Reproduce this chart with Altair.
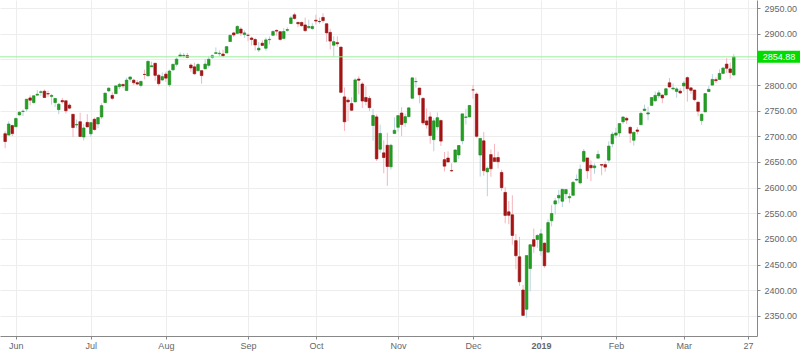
import altair as alt
import pandas as pd

# ---- data (S&P 500 daily candles, trading days) ----
dates = (
    ["2018-05-29", "2018-05-30", "2018-05-31"]
    + ["2018-06-%02d" % d for d in [1, 4, 5, 6, 7, 8, 11, 12, 13, 14, 15, 18, 19, 20, 21, 22, 25, 26, 27, 28, 29]]
    + ["2018-07-%02d" % d for d in [2, 3, 5, 6, 9, 10, 11, 12, 13, 16, 17, 18, 19, 20, 23, 24, 25, 26, 27, 30, 31]]
    + ["2018-08-%02d" % d for d in [1, 2, 3, 6, 7, 8, 9, 10, 13, 14, 15, 16, 17, 20, 21, 22, 23, 24, 27, 28, 29, 30, 31]]
    + ["2018-09-%02d" % d for d in [4, 5, 6, 7, 10, 11, 12, 13, 14, 17, 18, 19, 20, 21, 24, 25, 26, 27, 28]]
    + ["2018-10-%02d" % d for d in [1, 2, 3, 4, 5, 8, 9, 10, 11, 12, 15, 16, 17, 18, 19, 22, 23, 24, 25, 26, 29, 30, 31]]
    + ["2018-11-%02d" % d for d in [1, 2, 5, 6, 7, 8, 9, 12, 13, 14, 15, 16, 19, 20, 21, 23, 26, 27, 28, 29, 30]]
    + ["2018-12-%02d" % d for d in [3, 4, 6, 7, 10, 11, 12, 13, 14, 17, 18, 19, 20, 21, 24, 26, 27, 28, 31]]
    + ["2019-01-%02d" % d for d in [2, 3, 4, 7, 8, 9, 10, 11, 14, 15, 16, 17, 18, 22, 23, 24, 25, 28, 29, 30, 31]]
    + ["2019-02-%02d" % d for d in [1, 4, 5, 6, 7, 8, 11, 12, 13, 14, 15, 19, 20, 21, 22, 25, 26, 27, 28]]
    + ["2019-03-%02d" % d for d in [1, 4, 5, 6, 7, 8, 11, 12, 13, 14, 15, 18, 19, 20, 21]]
)

opens = [
    2705.11, 2702.43, 2720.98,
    2718.70, 2741.67, 2748.46, 2753.25, 2774.84, 2765.84, 2780.18, 2785.60, 2787.94, 2783.21, 2777.78,
    2765.79, 2752.01, 2769.73, 2769.28, 2760.79, 2742.94, 2722.12, 2728.45, 2698.69, 2727.13,
    2704.95, 2733.27, 2724.19, 2737.68, 2765.79, 2788.56, 2779.82, 2783.14, 2796.93, 2800.86, 2789.34,
    2811.35, 2809.37, 2804.55, 2799.17, 2820.68, 2817.73, 2835.49, 2842.35, 2819.00, 2809.73,
    2821.17, 2800.48, 2829.62, 2840.29, 2855.92, 2856.79, 2857.19, 2838.90, 2835.46, 2827.88, 2827.95,
    2831.44, 2838.32, 2853.93, 2861.51, 2860.99, 2860.29, 2862.35, 2884.69, 2901.45, 2900.62, 2908.94, 2898.37,
    2896.96, 2891.59, 2888.64, 2868.26, 2881.39, 2871.57, 2888.29, 2896.85, 2906.38, 2903.83, 2890.74,
    2906.60, 2919.73, 2936.76, 2921.83, 2921.75, 2916.98, 2911.65, 2910.03,
    2926.29, 2923.80, 2931.69, 2919.35, 2902.54, 2877.53, 2882.51, 2873.90, 2776.87, 2770.54, 2763.83,
    2767.05, 2811.67, 2802.00, 2775.66, 2773.94, 2721.03, 2737.87, 2674.88, 2667.86, 2682.65, 2640.68, 2705.60,
    2717.58, 2745.45, 2726.37, 2738.40, 2774.13, 2806.38, 2794.10, 2773.93, 2730.05, 2737.90, 2693.52,
    2718.54, 2730.74, 2654.60, 2657.74, 2633.36, 2649.97, 2663.75, 2691.45, 2736.97, 2737.76,
    2790.50, 2782.43, 2663.51, 2691.26, 2630.86, 2664.44, 2658.23, 2658.70, 2629.68, 2590.75, 2553.00,
    2547.05, 2496.77, 2465.38, 2400.56, 2363.12, 2442.50, 2498.77, 2498.94,
    2476.96, 2491.92, 2474.33, 2535.61, 2568.11, 2580.00, 2573.51, 2588.11, 2580.31, 2585.10, 2614.75,
    2609.28, 2651.27, 2657.88, 2643.48, 2638.84, 2657.44, 2644.97, 2644.89, 2653.62, 2685.49,
    2702.32, 2706.49, 2728.34, 2735.05, 2717.53, 2692.36, 2712.40, 2722.61, 2750.30, 2743.50, 2760.24,
    2769.28, 2779.05, 2780.24, 2780.67, 2804.35, 2792.36, 2787.50, 2788.11,
    2798.22, 2814.37, 2794.41, 2790.27, 2766.53, 2730.79, 2747.61, 2787.34, 2799.78, 2810.38, 2810.79,
    2822.61, 2840.76, 2831.34, 2819.72,
]

highs = [
    2710.67, 2729.34, 2722.50,
    2736.93, 2749.16, 2752.61, 2772.39, 2779.90, 2779.39, 2790.21, 2789.80, 2791.47, 2789.06, 2782.81,
    2774.99, 2765.05, 2774.86, 2769.28, 2764.17, 2742.94, 2732.91, 2746.09, 2724.34, 2743.26,
    2727.26, 2736.58, 2737.83, 2764.41, 2784.65, 2795.58, 2785.91, 2799.22, 2804.53, 2803.37, 2814.19,
    2816.76, 2812.05, 2809.70, 2808.61, 2829.99, 2848.03, 2845.57, 2843.17, 2821.74, 2824.46,
    2825.83, 2829.91, 2840.38, 2853.29, 2863.43, 2862.44, 2862.48, 2842.20, 2843.40, 2843.11, 2827.95,
    2850.49, 2855.63, 2859.76, 2873.23, 2867.54, 2868.78, 2876.16, 2898.25, 2903.77, 2916.50, 2912.46, 2906.32,
    2900.18, 2894.21, 2892.05, 2883.81, 2886.93, 2892.52, 2894.65, 2906.76, 2908.30, 2904.65, 2911.17,
    2912.36, 2934.80, 2940.91, 2923.79, 2923.95, 2931.15, 2927.22, 2920.53,
    2937.06, 2931.42, 2939.86, 2919.78, 2909.64, 2894.83, 2894.83, 2874.02, 2795.14, 2775.77, 2775.99,
    2813.46, 2816.94, 2806.04, 2797.77, 2778.94, 2753.59, 2742.59, 2722.70, 2692.38, 2706.85, 2685.43, 2736.69,
    2741.67, 2756.55, 2744.27, 2756.82, 2815.15, 2814.75, 2794.10, 2775.99, 2754.60, 2746.80, 2735.38,
    2746.75, 2733.16, 2669.44, 2670.73, 2647.55, 2674.35, 2682.53, 2744.00, 2753.75, 2760.88,
    2800.18, 2785.93, 2696.15, 2708.54, 2641.34, 2674.35, 2685.44, 2670.19, 2635.07, 2601.13, 2573.99,
    2585.29, 2509.63, 2504.41, 2410.34, 2467.76, 2489.10, 2520.27, 2509.24,
    2519.49, 2493.14, 2538.07, 2566.16, 2579.82, 2595.32, 2597.82, 2596.27, 2589.32, 2613.08, 2625.76,
    2645.06, 2675.47, 2657.88, 2653.19, 2647.20, 2672.38, 2644.97, 2650.93, 2690.44, 2708.95,
    2716.66, 2724.99, 2738.98, 2738.08, 2719.32, 2708.07, 2718.05, 2748.19, 2761.85, 2757.90, 2775.66,
    2787.33, 2789.88, 2781.58, 2794.20, 2813.49, 2803.12, 2795.76, 2793.73,
    2808.02, 2816.88, 2796.44, 2790.27, 2767.25, 2744.13, 2784.00, 2798.32, 2821.24, 2815.00, 2830.73,
    2835.41, 2852.42, 2843.54, 2860.31,
]

lows = [
    2676.81, 2702.43, 2700.68,
    2718.70, 2740.54, 2739.51, 2748.46, 2760.16, 2763.59, 2780.17, 2778.78, 2774.65, 2776.52, 2761.73,
    2757.12, 2743.19, 2763.91, 2744.39, 2752.68, 2698.67, 2715.60, 2699.38, 2691.99, 2718.03,
    2698.95, 2711.16, 2716.02, 2733.52, 2765.79, 2786.24, 2770.77, 2783.14, 2791.69, 2793.81, 2789.24,
    2805.89, 2799.77, 2800.01, 2795.14, 2811.12, 2817.73, 2835.26, 2808.34, 2798.11, 2808.06,
    2805.85, 2796.34, 2827.37, 2835.98, 2855.92, 2853.09, 2851.98, 2825.81, 2819.88, 2826.58, 2802.49,
    2831.44, 2833.73, 2850.62, 2861.32, 2856.05, 2854.03, 2862.35, 2884.69, 2893.50, 2898.40, 2895.22, 2891.73,
    2885.13, 2876.92, 2867.29, 2864.12, 2875.94, 2866.78, 2879.20, 2896.39, 2895.77, 2886.16, 2890.43,
    2903.82, 2919.73, 2927.11, 2912.63, 2913.70, 2903.28, 2909.27, 2907.50,
    2917.91, 2919.37, 2921.36, 2883.92, 2869.29, 2855.04, 2874.27, 2784.86, 2710.51, 2729.44, 2749.03,
    2766.91, 2781.81, 2755.18, 2760.27, 2749.22, 2691.43, 2651.89, 2667.84, 2628.16, 2603.54, 2635.34, 2705.60,
    2708.85, 2700.44, 2717.94, 2737.08, 2774.13, 2794.99, 2764.24, 2722.00, 2714.98, 2685.75, 2670.75,
    2712.16, 2681.09, 2631.52, 2649.82, 2631.09, 2649.97, 2655.89, 2684.38, 2722.94, 2737.76,
    2773.38, 2697.18, 2621.53, 2623.14, 2583.23, 2621.30, 2650.26, 2637.27, 2593.84, 2530.54, 2528.71,
    2488.96, 2441.18, 2408.55, 2351.10, 2346.58, 2397.94, 2472.89, 2482.82,
    2467.47, 2443.96, 2474.33, 2524.56, 2547.56, 2568.89, 2562.02, 2577.40, 2570.41, 2585.10, 2612.68,
    2606.36, 2647.58, 2617.27, 2612.86, 2627.01, 2657.33, 2624.06, 2631.05, 2648.34, 2678.65,
    2696.88, 2698.75, 2724.03, 2724.15, 2687.26, 2681.83, 2703.79, 2722.61, 2748.63, 2731.23, 2760.24,
    2767.29, 2774.06, 2764.55, 2779.11, 2794.99, 2789.47, 2775.13, 2782.51,
    2787.38, 2767.66, 2782.97, 2768.69, 2739.09, 2722.27, 2747.61, 2786.73, 2799.78, 2803.46, 2810.79,
    2821.99, 2823.27, 2812.43, 2817.38,
]

closes = [
    2689.86, 2724.01, 2705.27,
    2734.62, 2746.87, 2748.80, 2772.35, 2770.37, 2779.03, 2782.00, 2786.85, 2775.63, 2782.49, 2779.66,
    2773.75, 2762.59, 2767.32, 2749.76, 2754.88, 2717.07, 2723.06, 2699.63, 2716.31, 2718.37,
    2726.71, 2713.22, 2736.61, 2759.82, 2784.17, 2793.84, 2774.02, 2798.29, 2801.31, 2798.43, 2809.55,
    2815.62, 2804.49, 2801.83, 2806.98, 2820.40, 2846.07, 2837.44, 2818.82, 2802.60, 2816.29,
    2813.36, 2827.22, 2840.35, 2850.40, 2858.45, 2857.70, 2853.58, 2833.28, 2821.93, 2839.96, 2818.37,
    2840.69, 2850.13, 2857.05, 2862.96, 2861.82, 2856.98, 2874.69, 2896.74, 2897.52, 2914.04, 2901.13, 2901.52,
    2896.72, 2888.60, 2878.05, 2871.68, 2877.13, 2887.89, 2888.92, 2904.18, 2904.98, 2888.80, 2904.31,
    2907.95, 2930.75, 2929.67, 2919.37, 2915.56, 2905.97, 2914.00, 2913.98,
    2924.59, 2923.43, 2925.51, 2901.61, 2885.57, 2884.43, 2880.34, 2785.68, 2728.37, 2767.13, 2750.79,
    2809.92, 2809.21, 2768.78, 2767.78, 2755.88, 2740.69, 2656.10, 2705.57, 2658.69, 2641.25, 2682.63, 2711.74,
    2740.37, 2723.06, 2738.31, 2755.45, 2813.89, 2806.83, 2781.01, 2726.22, 2722.18, 2701.58, 2730.20,
    2736.27, 2690.73, 2641.89, 2649.93, 2632.56, 2673.45, 2682.17, 2743.79, 2737.76, 2760.17,
    2790.37, 2700.06, 2695.95, 2633.08, 2637.72, 2636.78, 2651.07, 2650.54, 2599.95, 2545.94, 2546.16,
    2506.96, 2467.42, 2416.62, 2351.10, 2467.70, 2488.83, 2485.74, 2506.85,
    2510.03, 2447.89, 2531.94, 2549.69, 2574.41, 2584.96, 2596.64, 2596.26, 2582.61, 2610.30, 2616.10,
    2635.96, 2670.71, 2632.90, 2638.70, 2642.33, 2664.76, 2643.85, 2640.00, 2681.05, 2704.10,
    2706.53, 2724.87, 2737.70, 2731.61, 2706.05, 2707.88, 2709.80, 2744.73, 2753.03, 2745.73, 2775.60,
    2779.76, 2784.70, 2774.88, 2792.67, 2796.11, 2793.90, 2792.38, 2784.49,
    2803.69, 2792.81, 2789.65, 2771.45, 2748.93, 2743.07, 2783.30, 2791.52, 2810.92, 2808.48, 2822.48,
    2832.94, 2832.57, 2824.23, 2854.88,
]

# x-axis ticks: trading-day index (0 = 2018-06-01) and their labels
tick_index = [0, 21, 42, 65, 84, 107, 128, 147, 168, 187, 205]
tick_labels = ["Jun", "Jul", "Aug", "Sep", "Oct", "Nov", "Dec", "2019", "Feb", "Mar", "27"]
y_ticks = [2350, 2400, 2450, 2500, 2550, 2600, 2650, 2700, 2750, 2800, 2850, 2900, 2950]
hidden_y_label = 2850  # covered by the last-price tag in the reference

# ---- build table ----
df = pd.DataFrame({"date": dates, "open": opens, "high": highs, "low": lows, "close": closes})
origin = dates.index("2018-06-01")
df["i"] = [k - origin for k in range(len(df))]

last_close = closes[-1]

UP_BODY, DN_BODY = "#22a022", "#a81414"
UP_EDGE, DN_EDGE = "#1b861b", "#8e0f0f"
UP_WICK, DN_WICK = "#b6d4de", "#f5b4be"
FONT = "Liberation Sans"

expr = ""
for v, lab in zip(tick_index, tick_labels):
    expr += f"datum.value == {v} ? '{lab}' : "
expr += "''"

x_scale = alt.Scale(domain=[-3.04, 206.1], nice=False, zero=False)
x_axis = alt.Axis(
    values=tick_index, labelExpr=expr, title=None, grid=True, gridColor="#ededed",
    domainColor="#888888", tickColor="#888888", tickSize=3, labelColor="#666666",
    labelFontSize=9, labelFont=FONT, labelPadding=2, labelFlush=False, labelOverlap=False,
    labelFontWeight={"condition": {"test": "datum.value == 147", "value": "bold"}, "value": "normal"},
)
y_scale = alt.Scale(domain=[2311.0, 2965.6], nice=False, zero=False)
y_axis = alt.Axis(
    orient="right", values=y_ticks, title=None, grid=True, gridColor="#ededed",
    labelExpr=f"datum.value == {hidden_y_label} ? '' : format(datum.value, '.2f')",
    domainColor="#888888", tickColor="#888888", tickSize=3, labelPadding=4, labelFontSize=9,
    labelColor="#666666", labelFont=FONT, labelOverlap=False,
)

is_up = "datum.close >= datum.open"

base = alt.Chart(df)

wicks = base.mark_rule(strokeWidth=1).encode(
    x=alt.X("i:Q", scale=x_scale, axis=x_axis),
    y=alt.Y("low:Q", scale=y_scale, axis=y_axis),
    y2="high:Q",
    color=alt.condition(is_up, alt.value(UP_WICK), alt.value(DN_WICK)),
)

bodies = base.mark_bar(size=2.6, strokeWidth=0.6).encode(
    x=alt.X("i:Q", scale=x_scale, axis=x_axis),
    y=alt.Y("open:Q", scale=y_scale, axis=y_axis),
    y2="close:Q",
    color=alt.condition(is_up, alt.value(UP_BODY), alt.value(DN_BODY)),
    stroke=alt.condition(is_up, alt.value(UP_EDGE), alt.value(DN_EDGE)),
)

price_df = pd.DataFrame({"p": [last_close], "t": [f"{last_close:.2f}"]})

price_line = alt.Chart(price_df).mark_rule(
    color="#9cee9c", strokeWidth=1
).encode(y=alt.Y("p:Q", scale=y_scale, axis=y_axis))

label_box = alt.Chart(price_df).mark_rect(
    color="#00dc00", yOffset=-6, y2Offset=6
).encode(
    x=alt.value(757), x2=alt.value(800),
    y=alt.Y("p:Q", scale=y_scale, axis=y_axis), y2="p:Q",
)

label_text = alt.Chart(price_df).mark_text(
    color="white", fontSize=9, font=FONT, align="center", baseline="middle"
).encode(
    x=alt.value(779), y=alt.Y("p:Q", scale=y_scale, axis=y_axis), text="t:N",
)

chart = alt.layer(wicks, bodies, price_line, label_box, label_text).properties(
    width=757,
    height=336,
    autosize=alt.AutoSizeParams(type="none"),
    padding={"left": 0, "top": 0, "right": 43, "bottom": 15},
    background="white",
).configure_view(strokeWidth=0)

chart.save("out.html", embed_options={"renderer": "svg", "actions": False})
